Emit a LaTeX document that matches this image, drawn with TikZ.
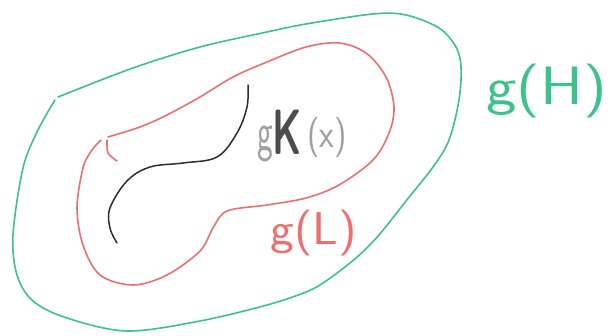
\documentclass[tikz,border=0pt]{standalone}
\usepackage{fontspec}
\usetikzlibrary{calc}
\definecolor{hgreen}{RGB}{60,195,140}
\definecolor{lred}{RGB}{238,110,110}
\definecolor{kblack}{RGB}{45,45,45}
\definecolor{tgray}{RGB}{160,160,160}
\tikzset{
  pencil/.style={line width=1.6pt,line cap=round,line join=round},
  greenline/.style={pencil,draw=hgreen},
  redline/.style={pencil,draw=lred},
  blackline/.style={pencil,draw=kblack,line width=1.5pt},
  lab/.style={inner sep=0pt,anchor=base west,font=\sffamily},
}
\begin{document}
\begin{tikzpicture}[x=1pt,y=-1pt]
\useasboundingbox (0,0) rectangle (612,336);
% outer green region g(H)
\draw[greenline] plot[smooth,tension=0.55] coordinates {
 (58,97) (133,68) (200,47) (267,32) (306,24) (373,14) (406,15) (439,28)
 (456,47) (461,67) (459,100) (449,140) (433,167) (406,201) (379,235)
 (356,258) (326,281) (306,292) (267,305) (200,321) (127,331) (67,318)
 (33,301) (17,275) (13,235) (23,168) (38,130) (55,100)};
% red region g(L)
\draw[redline] plot[smooth,tension=0.55] coordinates {
 (108,137) (140,127) (167,115) (200,97) (233,77) (267,62) (306,47)
 (339,43) (366,53) (386,77) (394,107) (389,133) (373,160) (339,185)
 (306,198) (267,205) (227,211) (213,228) (200,251) (167,275) (133,285)
 (100,275) (83,245) (77,208) (83,168) (92,150) (101,140)};
\draw[redline] plot[smooth] coordinates {(107,140) (108,153) (117,161)};
% black curve
\draw[blackline] plot[smooth,tension=0.6] coordinates {
 (248,85) (247,107) (237,133) (217,157) (183,163) (150,167) (127,181)
 (110,208) (110,228) (117,243)};
% labels
\node[lab,text=hgreen,font=\sffamily\fontsize{54}{54}\selectfont,xscale=1.2] (gH) at (486,105) {g(H)};
\node[lab,text=lred,font=\sffamily\fontsize{46}{46}\selectfont,xscale=1.1] (gL) at (270,245) {g(L)};
\node[lab,text=tgray,font=\sffamily\fontsize{56}{56}\selectfont,xscale=0.6] (gx) at (257,151) {g};
\node[lab,text=kblack!85,font=\sffamily\bfseries\fontsize{64}{64}\selectfont,xscale=0.6] (gK) at (272,155) {K};
\node[lab,text=tgray,font=\sffamily\fontsize{40}{40}\selectfont,xscale=0.85] (gxx) at (307,148) {(x)};
\end{tikzpicture}
\end{document}
